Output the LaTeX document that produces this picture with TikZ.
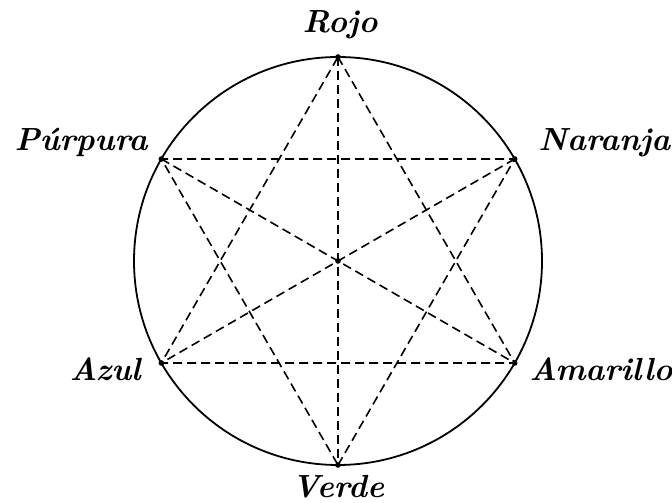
\documentclass[tikz,border=0pt]{standalone}
\usetikzlibrary{calc}
\begin{document}
\begin{tikzpicture}[x=1pt,y=1pt,
  lab/.style={font=\fontsize{16}{18}\selectfont\bfseries\itshape, inner sep=0pt},
  dline/.style={dash pattern=on 4.5pt off 2.5pt, line width=0.8pt},
  vdot/.style={circle, fill=black, inner sep=0pt, minimum size=2.8pt}]
\useasboundingbox (0,0) rectangle (336,251);
\coordinate (c) at (169,120.5);
\draw[line width=0.9pt] (c) circle (102);
\node[vdot] (O) at (c) {};
\node[vdot] (R)  at ($(c)+(90:102)$) {};
\node[vdot] (N)  at ($(c)+(30:102)$) {};
\node[vdot] (Am) at ($(c)+(-30:102)$) {};
\node[vdot] (V)  at ($(c)+(-90:102)$) {};
\node[vdot] (Az) at ($(c)+(-150:102)$) {};
\node[vdot] (P)  at ($(c)+(150:102)$) {};
% triangles
\draw[dline] (R.center) -- (Am.center) -- (Az.center) -- cycle;
\draw[dline] (V.center) -- (N.center) -- (P.center) -- cycle;
% diameters
\draw[dline] (R.center) -- (V.center);
\draw[dline] (P.center) -- (Am.center);
\draw[dline] (N.center) -- (Az.center);
% labels
\node[lab, anchor=base] (lR) at (170,234.5) {Rojo};
\node[lab, anchor=base] (lV) at (169,2.5) {Verde};
\node[lab, anchor=base east] (lP) at (74,175.5) {Púrpura};
\node[lab, anchor=base west] (lN) at (269,175.5) {Naranja};
\node[lab, anchor=base east] (lAz) at (70.5,60.5) {Azul};
\node[lab, anchor=base west] (lAm) at (264.5,60.5) {Amarillo};
\end{tikzpicture}
\end{document}
